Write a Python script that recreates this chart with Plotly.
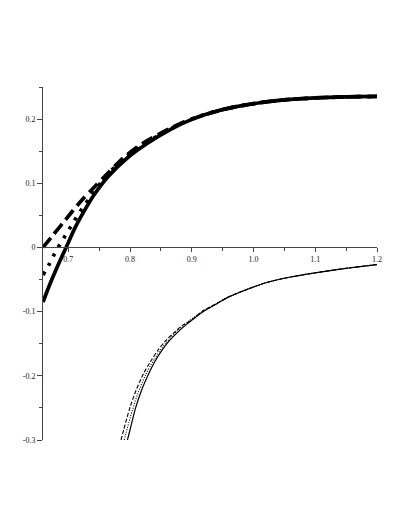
import plotly.graph_objects as go

# ---- data ----
up_solid_x = [0.659, 0.669, 0.679, 0.688, 0.6964, 0.711, 0.724, 0.741, 0.765, 0.795, 0.827, 0.865,
              0.90, 0.935, 0.97, 1.01, 1.05, 1.10, 1.15, 1.20]
up_solid_y = [-0.085, -0.060, -0.037, -0.0175, 0.0, 0.031, 0.054, 0.081, 0.111, 0.139, 0.1615, 0.1835,
              0.1995, 0.211, 0.219, 0.2255, 0.2300, 0.2330, 0.2346, 0.2353]

up_dash_x = [0.659, 0.675, 0.692, 0.708, 0.725, 0.743, 0.762, 0.789, 0.816, 0.845, 0.880, 0.920,
             0.970, 1.010, 1.050, 1.100, 1.150, 1.200]
up_dash_y = [0.000, 0.019, 0.039, 0.058, 0.077, 0.095, 0.1135, 0.1395, 0.1595, 0.1755, 0.1925, 0.2065,
             0.219, 0.2255, 0.2300, 0.2330, 0.2346, 0.2353]

up_dot_x = [0.659, 0.6694, 0.677, 0.6856, 0.6948, 0.704, 0.7126, 0.722, 0.7325, 0.7418, 0.765, 0.795,
            0.827, 0.865, 0.90, 0.935, 0.97, 1.01, 1.05, 1.10, 1.15, 1.20]
up_dot_y = [-0.043, -0.0255, -0.011, 0.0035, 0.018, 0.0325, 0.046, 0.060, 0.0745, 0.087, 0.1155, 0.142,
            0.1635, 0.1848, 0.2003, 0.2112, 0.219, 0.2255, 0.2300, 0.2330, 0.2346, 0.2353]

lo_solid_x = [0.7958, 0.800, 0.809, 0.820, 0.830, 0.840, 0.851, 0.863, 0.876, 0.890, 0.903, 0.920,
              0.940, 0.960, 0.985, 1.020, 1.060, 1.100, 1.150, 1.200]
lo_solid_y = [-0.300, -0.284, -0.250, -0.219, -0.197, -0.178, -0.161, -0.146, -0.133, -0.121, -0.111, -0.099,
              -0.088, -0.077, -0.067, -0.055, -0.046, -0.0395, -0.0325, -0.0266]

lo_dash_x = [0.7854, 0.790, 0.800, 0.810, 0.8215, 0.833, 0.8448, 0.857, 0.870, 0.884, 0.8987, 0.918,
             0.940, 0.960, 0.985, 1.020, 1.060, 1.100, 1.150, 1.200]
lo_dash_y = [-0.300, -0.283, -0.249, -0.222, -0.197, -0.178, -0.1605, -0.146, -0.134, -0.122, -0.1136, -0.0987,
             -0.0874, -0.0768, -0.067, -0.055, -0.046, -0.0395, -0.0325, -0.0266]

lo_dot_x = [0.7906, 0.800, 0.812, 0.825, 0.840, 0.857, 0.876, 0.895, 0.918, 0.940, 0.960, 0.985,
            1.020, 1.060, 1.100, 1.150, 1.200]
lo_dot_y = [-0.300, -0.266, -0.229, -0.199, -0.173, -0.150, -0.1305, -0.115, -0.0995, -0.0876, -0.077, -0.067,
            -0.055, -0.046, -0.0395, -0.0325, -0.0266]

x_tickvals = [0.7, 0.8, 0.9, 1.0, 1.1, 1.2]
x_ticktext = ["0.7", "0.8", "0.9", "1.0", "1.1", "1.2"]
y_tickvals = [-0.3, -0.2, -0.1, 0, 0.1, 0.2]
y_ticktext = ["-0.3", "-0.2", "-0.1", "0", "0.1", "0.2"]

X_RANGE = [0.659, 1.2]
Y_RANGE = [-0.3, 0.25]

fig = go.Figure()

def add(x, y, width, dash):
    fig.add_trace(go.Scatter(x=x, y=y, mode="lines",
                             line=dict(color="black", width=width, dash=dash, shape="spline", smoothing=0.8),
                             showlegend=False, hoverinfo="skip"))

add(up_solid_x, up_solid_y, 3.7, "solid")
add(up_dash_x, up_dash_y, 3.7, "12px,6px")
add(up_dot_x, up_dot_y, 3.7, "3.5px,7px")
add(lo_solid_x, lo_solid_y, 1.2, "solid")
add(lo_dash_x, lo_dash_y, 1.1, "4px,2px")
add(lo_dot_x, lo_dot_y, 1.1, "1px,1.5px")

font = dict(family="Liberation Serif, Times New Roman, serif", size=8, color="#222")

fig.update_layout(
    width=409, height=529,
    margin=dict(l=34.7, r=39.7, t=78.7, b=97.3),
    paper_bgcolor="white", plot_bgcolor="white",
    font=font,
    xaxis=dict(range=X_RANGE, anchor="free",
               position=(0 - Y_RANGE[0]) / (Y_RANGE[1] - Y_RANGE[0]),
               showgrid=False, zeroline=False, showline=True, linecolor="#444", linewidth=1,
               ticks="outside", ticklen=4, tickcolor="#444", tickwidth=1,
               tickvals=x_tickvals, ticktext=x_ticktext, tickfont=font,
               minor=dict(ticks="outside", ticklen=3, dtick=0.05, tick0=0.7, tickcolor="#444", showgrid=False)),
    yaxis=dict(range=Y_RANGE,
               showgrid=False, zeroline=False, showline=True, linecolor="#444", linewidth=1,
               ticks="outside", ticklen=5, tickcolor="#444", tickwidth=1,
               tickvals=y_tickvals, ticktext=y_ticktext, tickfont=font,
               minor=dict(ticks="outside", ticklen=3, dtick=0.05, tick0=0, tickcolor="#444", showgrid=False)),
)

fig.write_html("out.html")
